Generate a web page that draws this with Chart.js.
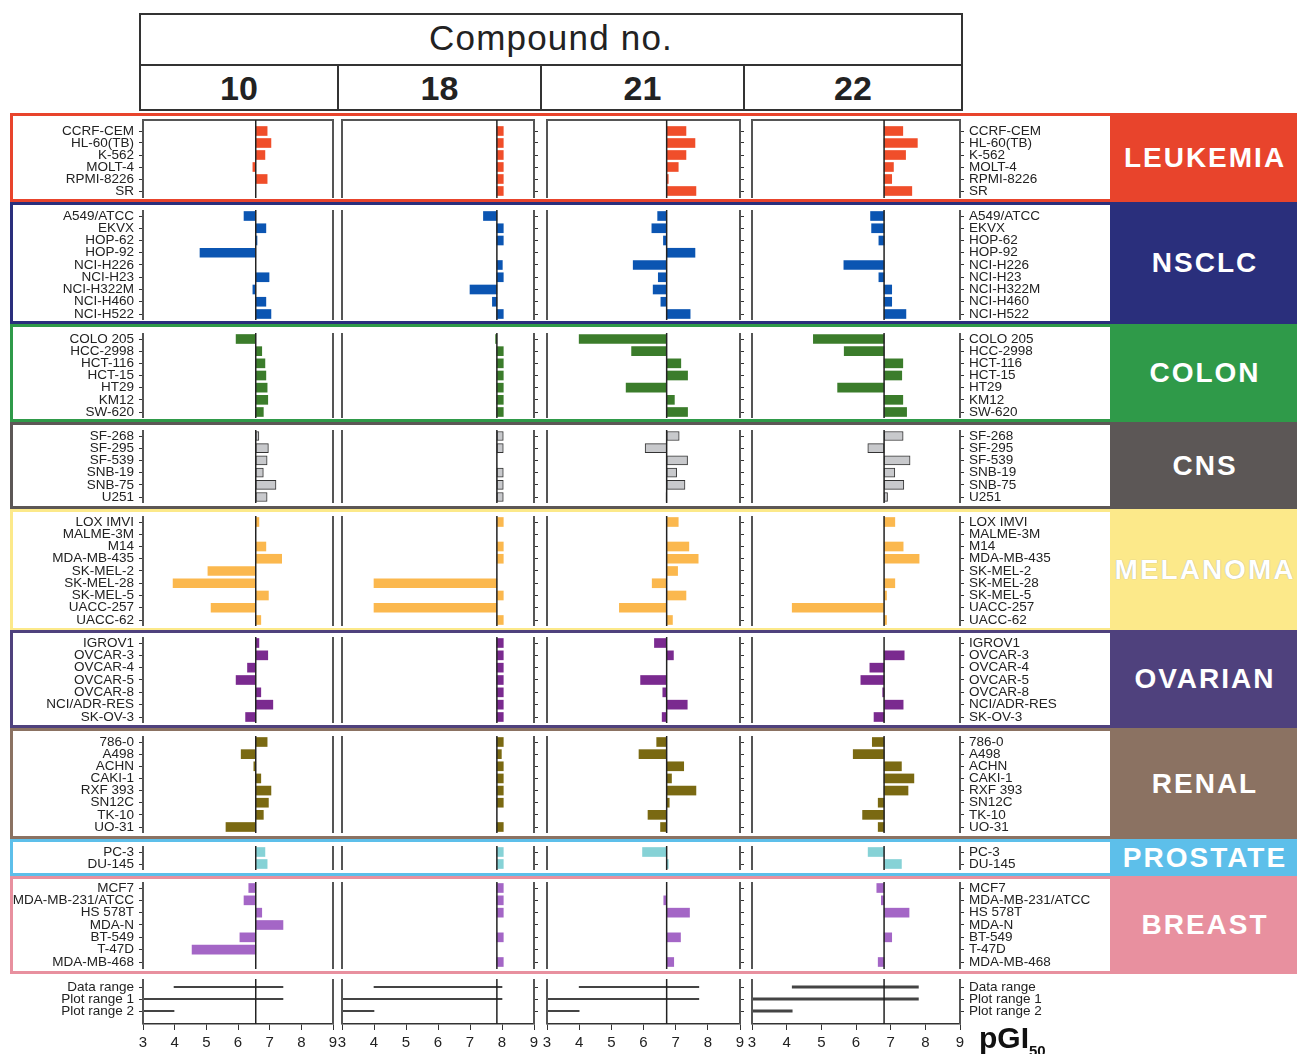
<!DOCTYPE html>
<html>
<head>
<meta charset="utf-8">
<script src="https://cdn.jsdelivr.net/npm/chart.js@4.4.0/dist/chart.umd.min.js"></script>
<style>
  body { margin: 0; background: #fff; width: 1297px; height: 1054px; position: relative; overflow: hidden;
         font-family: 'Liberation Sans', Arial, sans-serif; color: #222; }
  canvas { position: absolute; }
  .hd { position: absolute; box-sizing: border-box; border: 2px solid #333; text-align: center; }
  .panel { position: absolute; box-sizing: border-box; left: 10px; width: 1300px; border: 3px solid; }
  .tag { position: absolute; left: 1110px; width: 190px; color: #fff; font-weight: bold; font-size: 28px;
         letter-spacing: 2px; display: flex; align-items: center; justify-content: center; white-space: nowrap; overflow: hidden; }
</style>
</head>
<body>
<div class="hd" style="left:139px;top:13px;width:824px;height:53px;font-size:35px;line-height:45px;letter-spacing:1.2px">Compound no.</div>
<div id="heads"></div>
<div id="root"></div>
<div style="position:absolute;left:979px;top:1021px;font-weight:bold;font-size:30px;color:#111">pGI<span style="font-size:15px;position:relative;top:8px">50</span></div>

<script>
// ---- data ----
const compounds = ['10', '18', '21', '22'];
const meanPGI50 = [6.56, 7.84, 6.72, 6.81];

const leukemiaLines = ['CCRF-CEM', 'HL-60(TB)', 'K-562', 'MOLT-4', 'RPMI-8226', 'SR'];
const leukemiaPGI50 = [
  [6.92, 7.04, 6.85, 6.47, 6.92, null],
  [8.04, 8.04, 8.04, 8.04, 8.04, 8.04],
  [7.32, 7.60, 7.32, 7.08, 6.77, 7.63],
  [7.35, 7.77, 7.43, 7.08, 7.03, 7.61]
];

const nsclcLines = ['A549/ATCC', 'EKVX', 'HOP-62', 'HOP-92', 'NCI-H226', 'NCI-H23', 'NCI-H322M', 'NCI-H460', 'NCI-H522'];
const nsclcPGI50 = [
  [6.19, 6.88, 6.60, 4.80, null, 6.98, 6.47, 6.88, 7.04],
  [7.42, 8.04, 8.04, null, 8.01, 8.04, 7.00, 7.70, 8.04],
  [6.44, 6.26, 6.62, 7.60, 5.68, 6.46, 6.30, 6.54, 7.45],
  [6.42, 6.45, 6.66, null, 5.65, 6.66, 7.03, 7.03, 7.44]
];

const colonLines = ['COLO 205', 'HCC-2998', 'HCT-116', 'HCT-15', 'HT29', 'KM12', 'SW-620'];
const colonPGI50 = [
  [5.94, 6.75, 6.85, 6.88, 6.92, 6.94, 6.80],
  [7.80, 8.04, 8.04, 8.04, 8.04, 8.04, 8.04],
  [4.00, 5.63, 7.16, 7.37, 5.46, 6.96, 7.37],
  [4.77, 5.66, 7.35, 7.32, 5.47, 7.35, 7.46]
];

const cnsLines = ['SF-268', 'SF-295', 'SF-539', 'SNB-19', 'SNB-75', 'U251'];
const cnsPGI50 = [
  [6.66, 6.96, 6.92, 6.80, 7.20, 6.92],
  [8.04, 8.04, null, 8.04, 8.04, 8.04],
  [7.11, 6.05, 7.37, 7.03, 7.29, 6.70],
  [7.36, 6.34, 7.56, 7.12, 7.38, 6.91]
];

const melanomaLines = ['LOX IMVI', 'MALME-3M', 'M14', 'MDA-MB-435', 'SK-MEL-2', 'SK-MEL-28', 'SK-MEL-5', 'UACC-257', 'UACC-62'];
const melanomaPGI50 = [
  [6.66, null, 6.88, 7.38, 5.05, 3.95, 6.96, 5.15, 6.72],
  [8.04, null, 8.04, 8.04, null, 4.00, 8.04, 4.00, 8.04],
  [7.08, null, 7.41, 7.70, 7.06, 6.27, 7.32, 5.25, 6.90],
  [7.12, null, 7.36, 7.82, null, 7.12, 6.88, 4.16, 6.88]
];

const ovarianLines = ['IGROV1', 'OVCAR-3', 'OVCAR-4', 'OVCAR-5', 'OVCAR-8', 'NCI/ADR-RES', 'SK-OV-3'];
const ovarianPGI50 = [
  [6.66, 6.94, 6.30, 5.94, 6.72, 7.10, 6.24],
  [8.04, 8.04, 8.04, 8.04, 8.04, 8.04, 8.04],
  [6.34, 6.93, null, 5.91, 6.60, 7.36, 6.58],
  [null, 7.39, 6.40, 6.14, 6.77, 7.36, 6.52]
];

const renalLines = ['786-0', 'A498', 'ACHN', 'CAKI-1', 'RXF 393', 'SN12C', 'TK-10', 'UO-31'];
const renalPGI50 = [
  [6.92, 6.10, 6.50, 6.72, 7.04, 6.96, 6.80, 5.62],
  [8.04, 7.98, 8.04, 8.04, 8.04, 8.04, null, 8.04],
  [6.41, 5.86, 7.25, 6.87, 7.63, 6.80, 6.14, 6.53],
  [6.47, 5.92, 7.31, 7.67, 7.50, 6.64, 6.19, 6.64]
];

const prostateLines = ['PC-3', 'DU-145'];
const prostatePGI50 = [
  [6.85, 6.92],
  [8.04, 8.04],
  [5.97, 6.77],
  [6.35, 7.31]
];

const breastLines = ['MCF7', 'MDA-MB-231/ATCC', 'HS 578T', 'MDA-N', 'BT-549', 'T-47D', 'MDA-MB-468'];
const breastPGI50 = [
  [6.34, 6.19, 6.75, 7.42, 6.06, 4.55, null],
  [8.04, 8.04, 8.04, null, 8.04, null, 8.04],
  [null, 6.63, 7.43, null, 7.15, null, 6.94],
  [6.60, 6.73, 7.53, null, 7.03, null, 6.64]
];

const rangeLines = ['Data range', 'Plot range 1', 'Plot range 2'];
const dataRange = [[3.98, 7.42], [4.00, 8.00], [4.00, 7.72], [4.16, 7.80]];
const plotRange1 = [[3, 7.42], [3, 8.00], [3, 7.72], [3, 7.80]];
const plotRange2 = [[3, 3.98], [3, 4.00], [3, 4.00], [3, 4.16]];

const pgiMin = 3, pgiMax = 9;

// ---- layout ----
// box: coloured frame top/bottom, frame: plot frame top/bottom, rows: first/last row centre
const panels = [
  { name: 'LEUKEMIA', lines: leukemiaLines, vals: leukemiaPGI50, color: '#e8442c', bar: '#f04e2a', box: [113, 202], frame: [120, 198], rows: [131, 191], topLine: true },
  { name: 'NSCLC', lines: nsclcLines, vals: nsclcPGI50, color: '#2a2f7c', bar: '#0b55b2', box: [202, 324], frame: [210, 320], rows: [216, 314] },
  { name: 'COLON', lines: colonLines, vals: colonPGI50, color: '#2f9a49', bar: '#3b7c2b', box: [324, 422], frame: [333, 418], rows: [339, 412] },
  { name: 'CNS', lines: cnsLines, vals: cnsPGI50, color: '#5c5756', bar: '#c8c9cc', box: [422, 509], frame: [430, 503], rows: [436, 497], outline: true },
  { name: 'MELANOMA', lines: melanomaLines, vals: melanomaPGI50, color: '#fce98a', bar: '#fbb84e', box: [509, 631], frame: [516, 626], rows: [522, 620] },
  { name: 'OVARIAN', lines: ovarianLines, vals: ovarianPGI50, color: '#4f417d', bar: '#7a2a8f', box: [630, 728], frame: [637, 723], rows: [643, 717] },
  { name: 'RENAL', lines: renalLines, vals: renalPGI50, color: '#8b7262', bar: '#7a6912', box: [728, 839], frame: [736, 833], rows: [742, 827] },
  { name: 'PROSTATE', lines: prostateLines, vals: prostatePGI50, color: '#5dbfea', bar: '#86d2d6', box: [839, 876], frame: [846, 870], rows: [852, 864] },
  { name: 'BREAST', lines: breastLines, vals: breastPGI50, color: '#e8909f', bar: '#a466c6', box: [876, 974], frame: [882, 969], rows: [888, 962] }
];
const rangePanel = { lines: rangeLines, frame: [979, 1024], rows: [987, 1011] };

const cols = [
  { left: 143, right: 333, side: 'left', axisW: 133, labels: true, head: [139, 337] },
  { left: 342, right: 534, side: 'right', axisW: 8, labels: false, head: [337, 540] },
  { left: 547, right: 740, side: 'right', axisW: 8, labels: false, head: [540, 743] },
  { left: 752, right: 960, side: 'right', axisW: 150, labels: true, head: [743, 961] }
];

const labelFont = { family: "'Liberation Sans Narrow', 'Arial Narrow', 'Liberation Sans', sans-serif", size: 13.5 };

// ---- header ----
const heads = document.getElementById('heads');
cols.forEach((c, i) => {
  const d = document.createElement('div');
  d.className = 'hd';
  d.style.cssText = `left:${c.head[0]}px;top:64px;width:${c.head[1] - c.head[0] + 2}px;height:47px;font-size:34px;font-weight:bold;line-height:45px`;
  d.textContent = compounds[i];
  heads.appendChild(d);
});

const root = document.getElementById('root');
panels.forEach(p => {
  const b = document.createElement('div');
  b.className = 'panel';
  b.style.cssText = `top:${p.box[0]}px;height:${p.box[1] - p.box[0]}px;border-color:${p.color}`;
  root.appendChild(b);
  const t = document.createElement('div');
  t.className = 'tag';
  t.style.cssText = `top:${p.box[0]}px;height:${p.box[1] - p.box[0]}px;background:${p.color}` +
    (p.name === 'MELANOMA' ? ';text-shadow:0 0 1px #9a9a9a' : '');
  t.textContent = p.name;
  root.appendChild(t);
});

// frame, top line and mean line of each plot
const framePlugin = {
  id: 'frame',
  afterDatasetsDraw(chart, args, opts) {
    const { ctx, chartArea: a, scales: { x } } = chart;
    ctx.save();
    ctx.strokeStyle = '#555';
    ctx.lineWidth = 2;
    ctx.beginPath();
    ctx.moveTo(a.left, a.top); ctx.lineTo(a.left, a.bottom);
    ctx.moveTo(a.right, a.top); ctx.lineTo(a.right, a.bottom);
    if (opts.topLine) { ctx.moveTo(a.left - 1, a.top); ctx.lineTo(a.right + 1, a.top); }
    ctx.stroke();
    const mx = x.getPixelForValue(opts.mean);
    ctx.strokeStyle = '#222';
    ctx.lineWidth = 1.5;
    ctx.beginPath();
    ctx.moveTo(mx, a.top); ctx.lineTo(mx, a.bottom);
    ctx.stroke();
    ctx.restore();
  }
};

function makeChart(panel, ci, datasets, isRange) {
  const c = cols[ci];
  const hpad = 6, vpad = 8;
  const axisH = isRange ? 32 : 0;
  const n = panel.lines.length;
  const step = (panel.rows[1] - panel.rows[0]) / (n - 1);
  const yMin = -(panel.rows[0] - panel.frame[0]) / step;
  const yMax = (n - 1) + (panel.frame[1] - panel.rows[1]) / step;

  let left, width, padL, padR;
  if (c.side === 'left') {
    left = c.left - c.axisW; padL = 0; padR = hpad; width = c.right + hpad - left;
  } else {
    left = c.left - hpad; padL = hpad; padR = 0; width = c.right + c.axisW - left;
  }
  const top = panel.frame[0] - vpad;
  const height = panel.frame[1] - panel.frame[0] + vpad + (isRange ? axisH : vpad);

  const cv = document.createElement('canvas');
  cv.width = width; cv.height = height;
  cv.style.left = left + 'px'; cv.style.top = top + 'px';
  root.appendChild(cv);

  new Chart(cv, {
    type: 'bar',
    data: { datasets },
    options: {
      indexAxis: 'y',
      responsive: false,
      animation: false,
      events: [],
      layout: { padding: { left: padL, right: padR, top: vpad, bottom: isRange ? 0 : vpad } },
      plugins: {
        legend: { display: false },
        tooltip: { enabled: false },
        frame: { mean: meanPGI50[ci], topLine: !!panel.topLine }
      },
      scales: {
        x: {
          type: 'linear', min: pgiMin, max: pgiMax, display: isRange, position: 'bottom', offset: false,
          ticks: { stepSize: 1, font: { family: labelFont.family, size: 15 }, color: '#222', padding: 4, maxRotation: 0 },
          grid: { drawOnChartArea: false, tickLength: 6, color: '#333', offset: false },
          border: { color: '#333', width: 1.5 },
          afterFit(s) { s.height = axisH; s.paddingLeft = 0; s.paddingRight = 0; }
        },
        y: {
          type: 'linear', reverse: true, min: yMin, max: yMax, position: c.side, offset: false,
          afterBuildTicks(s) { s.ticks = panel.lines.map((_, i) => ({ value: i })); },
          ticks: {
            autoSkip: false, padding: 5, color: '#222', font: labelFont,
            callback: v => (c.labels ? panel.lines[v] : '')
          },
          grid: { drawOnChartArea: false, tickLength: 4, color: '#333', offset: false },
          border: { display: false },
          afterFit(s) { s.width = c.axisW; s.paddingTop = 0; s.paddingBottom = 0; }
        }
      }
    },
    plugins: [framePlugin]
  });
}

panels.forEach(p => {
  cols.forEach((c, ci) => {
    const mean = meanPGI50[ci];
    const data = p.vals[ci]
      .map((v, i) => (v === null ? null : { x: [mean, v], y: i }))
      .filter(d => d !== null);
    makeChart(p, ci, [{
      data,
      backgroundColor: p.bar,
      borderColor: p.outline ? '#333' : p.bar,
      borderWidth: p.outline ? 1 : 0,
      borderSkipped: false,
      barThickness: 9
    }], false);
  });
});

cols.forEach((c, ci) => {
  const data = [dataRange[ci], plotRange1[ci], plotRange2[ci]].map((r, i) => ({ x: r, y: i }));
  makeChart(rangePanel, ci, [{
    data,
    backgroundColor: '#444',
    borderWidth: 0,
    barThickness: ci === 3 ? 2.5 : 1.5
  }], true);
});
</script>
</body>
</html>
